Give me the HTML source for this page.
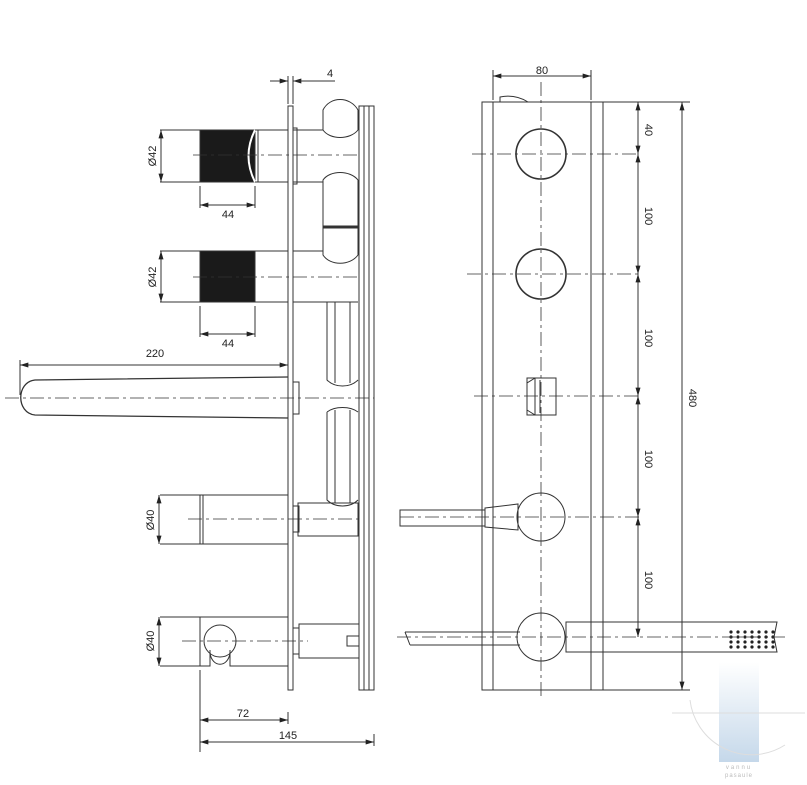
<!DOCTYPE html>
<html><head><meta charset="utf-8"><style>
html,body{margin:0;padding:0;background:#fff;}
svg{display:block;font-family:"Liberation Sans",sans-serif;}
</style></head><body>
<svg width="807" height="785" viewBox="0 0 807 785" xmlns="http://www.w3.org/2000/svg">
<defs>
<marker id="a" viewBox="0 0 10 6" refX="10" refY="3" markerWidth="9" markerHeight="5" orient="auto-start-reverse"><path d="M0,0L10,3L0,6z" fill="#222"/></marker>
<linearGradient id="g" x1="0" y1="0" x2="0" y2="1"><stop offset="0" stop-color="#fff"/><stop offset="1" stop-color="#c5d8ea"/></linearGradient>
</defs>
<!-- watermark -->
<rect x="719" y="662" width="40" height="100" fill="url(#g)"/>
<path d="M690,700 A62,62 0 0 0 785,745" fill="none" stroke="#ddd"/>
<line x1="672" y1="713" x2="805" y2="713" stroke="#ddd"/>
<text x="739" y="769" font-size="6" fill="#bbb" text-anchor="middle" letter-spacing="2">vannu</text>
<text x="739" y="777" font-size="6" fill="#bbb" text-anchor="middle" letter-spacing="1">pasaule</text>

<g fill="none" stroke="#333" stroke-width="1">
<!-- LEFT VIEW -->
<rect x="288" y="106" width="5" height="584"/>
<rect x="359" y="106" width="15" height="584"/>
<line x1="364" y1="106" x2="364" y2="690"/><line x1="369" y1="106" x2="369" y2="690"/>
<!-- 4 dim -->
<line x1="288" y1="76" x2="288" y2="104"/><line x1="293" y1="76" x2="293" y2="104"/>
<line x1="270" y1="81" x2="288" y2="81" marker-end="url(#a)"/><line x1="312" y1="81" x2="293" y2="81" marker-end="url(#a)"/>
<line x1="293" y1="81" x2="335" y2="81"/>
<!-- knob 1 -->
<rect x="200" y="130" width="55" height="52" fill="#1a1a1a"/>
<path d="M255,130 Q242,156 255,182" stroke="#fff" stroke-width="2"/>
<line x1="255" y1="130" x2="288" y2="130"/><line x1="255" y1="182" x2="288" y2="182"/>
<line x1="258" y1="130" x2="258" y2="182"/>
<line x1="293" y1="130" x2="323" y2="130"/><line x1="293" y1="182" x2="323" y2="182"/>
<rect x="293" y="128" width="4" height="56"/>
<path d="M323,130 C330,140 350,140 358,130 L358,110 C350,96 330,96 323,110 Z"/>
<path d="M323,180 C330,170 350,170 358,180 L358,255 C350,266 330,266 323,255 Z"/>
<line x1="323" y1="227" x2="358" y2="227" stroke-width="3"/>
<!-- knob 2 -->
<rect x="200" y="251" width="55" height="51" fill="#1a1a1a"/>
<line x1="255" y1="251" x2="288" y2="251"/><line x1="255" y1="302" x2="288" y2="302"/>
<line x1="293" y1="251" x2="323" y2="251"/><line x1="293" y1="302" x2="358" y2="302"/>
<path d="M327,302 L327,380 C335,388 350,388 358,380"/>
<line x1="335" y1="302" x2="335" y2="383"/><line x1="350" y1="302" x2="350" y2="383"/>
<path d="M327,412 L327,500 C335,508 350,508 358,500"/>
<path d="M327,412 C335,406 350,406 358,412"/>
<line x1="335" y1="410" x2="335" y2="503"/><line x1="350" y1="410" x2="350" y2="503"/>
<!-- dims Ø42 -->
<line x1="160" y1="130" x2="200" y2="130"/><line x1="160" y1="182" x2="200" y2="182"/>
<line x1="161" y1="130" x2="161" y2="182" marker-start="url(#a)" marker-end="url(#a)"/>
<line x1="200" y1="186" x2="200" y2="208"/><line x1="255" y1="186" x2="255" y2="208"/>
<line x1="200" y1="205" x2="255" y2="205" marker-start="url(#a)" marker-end="url(#a)"/>
<line x1="160" y1="251" x2="200" y2="251"/><line x1="160" y1="302" x2="200" y2="302"/>
<line x1="161" y1="251" x2="161" y2="302" marker-start="url(#a)" marker-end="url(#a)"/>
<line x1="200" y1="306" x2="200" y2="337"/><line x1="255" y1="306" x2="255" y2="337"/>
<line x1="200" y1="334" x2="255" y2="334" marker-start="url(#a)" marker-end="url(#a)"/>
<!-- spout -->
<line x1="20" y1="360" x2="20" y2="395"/>
<line x1="20" y1="365" x2="288" y2="365" marker-start="url(#a)" marker-end="url(#a)"/>
<path d="M288,377 L35,380 C16,382 16,413 35,415 L288,418" stroke-width="1.3"/>
<rect x="293" y="382" width="6" height="32"/>
<!-- Ø40 knob -->
<rect x="200" y="495" width="88" height="49"/>
<line x1="203" y1="495" x2="203" y2="544"/>
<line x1="160" y1="495" x2="200" y2="495"/><line x1="160" y1="544" x2="200" y2="544"/>
<line x1="159" y1="495" x2="159" y2="544" marker-start="url(#a)" marker-end="url(#a)"/>
<rect x="293" y="506" width="6" height="26"/>
<rect x="298" y="503" width="60" height="33"/>
<!-- Ø40 bottom -->
<path d="M288,617 L200,617 L200,666 L210,666 L210,650 M230,650 L230,666 L288,666"/>
<circle cx="220" cy="641" r="16"/>
<path d="M210,653 C212,668 228,668 230,653"/>
<line x1="160" y1="617" x2="200" y2="617"/><line x1="160" y1="666" x2="200" y2="666"/>
<line x1="159" y1="617" x2="159" y2="666" marker-start="url(#a)" marker-end="url(#a)"/>
<rect x="293" y="628" width="6" height="26"/>
<rect x="299" y="624" width="60" height="34"/>
<rect x="347" y="636" width="12" height="10"/>
<!-- bottom dims -->
<line x1="200" y1="670" x2="200" y2="752"/>
<line x1="288" y1="712" x2="288" y2="724"/><line x1="374" y1="734" x2="374" y2="746"/>
<line x1="200" y1="720" x2="288" y2="720" marker-start="url(#a)" marker-end="url(#a)"/>
<line x1="200" y1="742" x2="374" y2="742" marker-start="url(#a)" marker-end="url(#a)"/>
</g>
<g stroke="#333" stroke-width="0.8" stroke-dasharray="14,4,3,4" fill="none">
<line x1="193" y1="155" x2="358" y2="155"/>
<line x1="193" y1="277" x2="358" y2="277"/>
<line x1="5" y1="398" x2="374" y2="398"/>
<line x1="188" y1="519" x2="358" y2="519"/>
<line x1="182" y1="641" x2="308" y2="641"/>
</g>
<g font-size="11" fill="#222">
<text x="330" y="77" text-anchor="middle">4</text>
<text x="228" y="218" text-anchor="middle">44</text>
<text x="228" y="347" text-anchor="middle">44</text>
<text x="155" y="357" text-anchor="middle">220</text>
<text x="243" y="717" text-anchor="middle">72</text>
<text x="288" y="739" text-anchor="middle">145</text>
<text transform="translate(156,156) rotate(-90)" text-anchor="middle">Ø42</text>
<text transform="translate(156,277) rotate(-90)" text-anchor="middle">Ø42</text>
<text transform="translate(154,520) rotate(-90)" text-anchor="middle">Ø40</text>
<text transform="translate(154,641) rotate(-90)" text-anchor="middle">Ø40</text>
</g>

<!-- RIGHT VIEW -->
<g fill="none" stroke="#333" stroke-width="1">
<rect x="482" y="102" width="121" height="588"/>
<line x1="493" y1="102" x2="493" y2="690"/><line x1="591" y1="102" x2="591" y2="690"/>
<path d="M500,102 L500,97 Q515,94 528,102"/>
<line x1="493" y1="70" x2="493" y2="100"/><line x1="591" y1="70" x2="591" y2="100"/>
<line x1="493" y1="76" x2="591" y2="76" marker-start="url(#a)" marker-end="url(#a)"/>
<ellipse cx="541" cy="154" rx="25" ry="25" stroke-width="1.6"/>
<ellipse cx="541" cy="274" rx="25" ry="25" stroke-width="1.6"/>
<rect x="527" y="378" width="29" height="37"/>
<path d="M527,383 L535,378 M527,410 L535,415 M535,378 L535,415 M540,380 L540,413"/>
<ellipse cx="541" cy="517" rx="24" ry="24"/>
<path d="M400,510 L485,510 L485,526 L400,526 Z"/>
<path d="M485,508 L518,504 L518,530 L485,527 Z"/>
<ellipse cx="541" cy="637" rx="24" ry="24"/>
<path d="M405,632 L520,632 M410,645 L520,645 M405,632 L410,645"/>
<path d="M566,622 L777,622 L774,637 L777,652 L566,652 L566,622 Z"/>
<!-- dims right -->
<line x1="603" y1="102" x2="690" y2="102"/><line x1="603" y1="690" x2="690" y2="690"/>
<line x1="638" y1="102" x2="638" y2="154" marker-start="url(#a)" marker-end="url(#a)"/>
<line x1="638" y1="154" x2="638" y2="274" marker-start="url(#a)" marker-end="url(#a)"/>
<line x1="638" y1="274" x2="638" y2="396" marker-start="url(#a)" marker-end="url(#a)"/>
<line x1="638" y1="396" x2="638" y2="517" marker-start="url(#a)" marker-end="url(#a)"/>
<line x1="638" y1="517" x2="638" y2="637" marker-start="url(#a)" marker-end="url(#a)"/>
<line x1="682" y1="102" x2="682" y2="690" marker-start="url(#a)" marker-end="url(#a)"/>
</g>
<g fill="#222">
<g id="d">
<circle cx="731" cy="632" r="1.6"/><circle cx="731" cy="637" r="1.6"/><circle cx="731" cy="642" r="1.6"/><circle cx="731" cy="647" r="1.6"/>
</g>
<use href="#d" x="7"/><use href="#d" x="14"/><use href="#d" x="21"/><use href="#d" x="28"/><use href="#d" x="35"/><use href="#d" x="42"/>
</g>
<g stroke="#333" stroke-width="0.8" stroke-dasharray="14,4,3,4" fill="none">
<line x1="541" y1="82" x2="541" y2="700"/>
<line x1="472" y1="154" x2="640" y2="154"/>
<line x1="467" y1="274" x2="640" y2="274"/>
<line x1="474" y1="396" x2="640" y2="396"/>
<line x1="400" y1="517" x2="640" y2="517"/>
<line x1="397" y1="637" x2="785" y2="637"/>
</g>
<g font-size="11" fill="#222">
<text x="542" y="74" text-anchor="middle">80</text>
<text transform="translate(645,130) rotate(90)" text-anchor="middle">40</text>
<text transform="translate(645,216) rotate(90)" text-anchor="middle">100</text>
<text transform="translate(645,338) rotate(90)" text-anchor="middle">100</text>
<text transform="translate(645,459) rotate(90)" text-anchor="middle">100</text>
<text transform="translate(645,580) rotate(90)" text-anchor="middle">100</text>
<text transform="translate(689,398) rotate(90)" text-anchor="middle">480</text>
</g>
</svg>
</body></html>
